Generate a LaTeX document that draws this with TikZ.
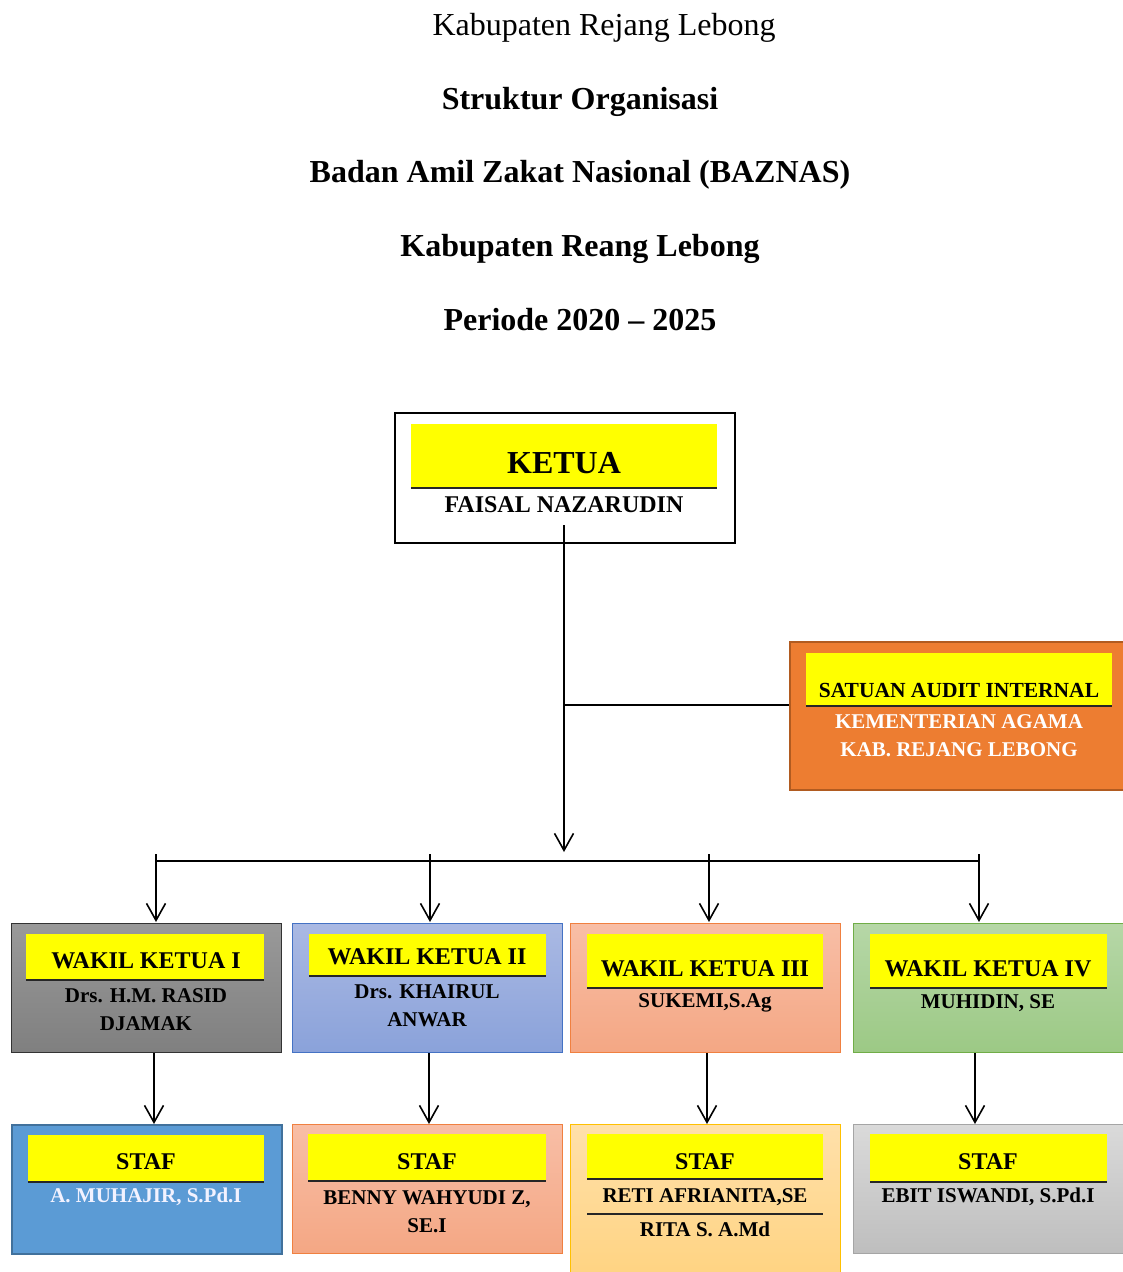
\documentclass[tikz,border=0pt]{standalone}
\usepackage{fontspec}
\setmainfont{Liberation Serif}
\usetikzlibrary{arrows.meta}
\definecolor{bandyellow}{HTML}{FFFF00}
\definecolor{auditor}{HTML}{ED7D31}
\definecolor{auditbd}{HTML}{B15B20}
\tikzset{
  title/.style={font=\fontsize{32}{36}\selectfont\bfseries, inner sep=0pt},
  band/.style={fill=bandyellow, draw=none, anchor=north west, inner sep=0pt},
  bandline/.style={draw=black!85, line width=2pt},
  hd/.style={font=\fontsize{24}{28}\selectfont\bfseries, inner sep=0pt},
  nm/.style={font=\fontsize{21}{28}\selectfont\bfseries, inner sep=0pt, align=center},
  box/.style={anchor=north west, inner sep=0pt, minimum width=270pt, minimum height=129pt, line width=1.2pt},
  conn/.style={line width=1.6pt, draw=black},
  arr/.style={conn, -{Straight Barb[length=17pt,width=19pt,line width=1.6pt]}},
}
\begin{document}
\begin{tikzpicture}[x=1pt,y=-1pt]
\useasboundingbox (0,0) rectangle (1123,1272);
\clip (0,0) rectangle (1123,1272);
% titles
\node[inner sep=0pt, font=\fontsize{32}{36}\selectfont] (t1) at (604,28) {Kabupaten Rejang Lebong};
\node[title] (t2) at (580,102) {Struktur Organisasi};
\node[title] (t3) at (580,175) {Badan Amil Zakat Nasional (BAZNAS)};
\node[title] (t4) at (580,249) {Kabupaten Reang Lebong};
\node[title] (t5) at (580,320) {Periode 2020 -- 2025};

% Ketua
\node[draw=black, line width=2.2pt, anchor=north west, minimum width=340pt, minimum height=130pt, inner sep=0pt] (ketua) at (394,412) {};
\node[band, minimum width=306pt, minimum height=64pt] (kband) at (411,424) {};
\draw[bandline] (kband.south west) -- (kband.south east);
\node[font=\fontsize{32}{36}\selectfont\bfseries, inner sep=0pt] (ktxt) at (564,463) {KETUA};
\node[font=\fontsize{24}{28}\selectfont\bfseries, inner sep=0pt] (kname) at (564,505) {FAISAL NAZARUDIN};

% Audit
\node[fill=auditor, draw=auditbd, line width=2pt, anchor=north west, minimum width=334pt, minimum height=148pt, inner sep=0pt] (audit) at (789,641) {};
\node[band, minimum width=306pt, minimum height=53pt] (aband) at (806,653) {};
\draw[bandline] (aband.south west) -- (aband.south east);
\node[font=\fontsize{21.5}{26}\selectfont\bfseries, inner sep=0pt] (atxt) at (959,690) {SATUAN AUDIT INTERNAL};
\node[font=\fontsize{21}{28}\selectfont\bfseries, text=white, inner sep=0pt, align=center] (aname) at (959,736) {KEMENTERIAN AGAMA\\KAB. REJANG LEBONG};

% connectors from ketua
\coordinate (k0) at (564,525);
\coordinate (kj) at (564,705);
\coordinate (kend) at (564,852);
\draw[conn] (kj) -- (audit.west |- kj);
\draw[arr] (k0) -- (kend);
\coordinate (busL) at (157,861);
\coordinate (busR) at (979,861);
\draw[conn] (busL) -- (busR);

% Wakil boxes
\node[box, top color=black!40, bottom color=black!50, draw=black!80] (w1) at (11,923) {};
\node[box, top color={rgb,255:red,170;green,185;blue,227}, bottom color={rgb,255:red,138;green,162;blue,218}, draw={rgb,255:red,68;green,114;blue,196}] (w2) at (292,923) {};
\node[box, top color={rgb,255:red,248;green,190;blue,166}, bottom color={rgb,255:red,244;green,167;blue,132}, draw={rgb,255:red,240;green,128;blue,64}] (w3) at (570,923) {};
\node[box, top color={rgb,255:red,182;green,215;blue,167}, bottom color={rgb,255:red,156;green,201;blue,133}, draw={rgb,255:red,112;green,173;blue,71}] (w4) at (853,923) {};

\node[band, minimum width=238pt, minimum height=46pt] (wb1) at (26,934) {};
\node[band, minimum width=237pt, minimum height=42pt] (wb2) at (309,934) {};
\node[band, minimum width=236pt, minimum height=54pt] (wb3) at (587,934) {};
\node[band, minimum width=237pt, minimum height=54pt] (wb4) at (870,934) {};
\foreach \b in {wb1,wb2,wb3,wb4}{\draw[bandline] (\b.south west) -- (\b.south east);}
\node[hd] (wt1) at (146,961) {WAKIL KETUA I};
\node[hd] (wt2) at (427,957) {WAKIL KETUA II};
\node[hd] (wt3) at (705,969) {WAKIL KETUA III};
\node[hd] (wt4) at (988,969) {WAKIL KETUA IV};
\node[nm] (wn1) at (146,1010) {Drs. H.M. RASID\\DJAMAK};
\node[nm] (wn2) at (427,1006) {Drs. KHAIRUL\\ANWAR};
\node[nm] (wn3) at (705,1003) {SUKEMI,S.Ag};
\node[nm] (wn4) at (988,1003) {MUHIDIN, SE};

% bus arrows to wakil
\draw[arr] (156,854) -- (156,922) coordinate (a1);
\draw[arr] (430,854) -- (430,922) coordinate (a2);
\draw[arr] (709,854) -- (709,922) coordinate (a3);
\draw[arr] (979,854) -- (979,922) coordinate (a4);

% Staf boxes
\node[box, fill={rgb,255:red,91;green,155;blue,213}, draw={rgb,255:red,65;green,113;blue,156}, line width=2.4pt] (s1) at (11,1124) {};
\node[box, top color={rgb,255:red,248;green,190;blue,166}, bottom color={rgb,255:red,244;green,167;blue,132}, draw={rgb,255:red,240;green,128;blue,64}] (s2) at (292,1124) {};
\node[box, minimum height=170pt, top color={rgb,255:red,255;green,224;blue,170}, bottom color={rgb,255:red,255;green,210;blue,125}, draw={rgb,255:red,255;green,192;blue,0}] (s3) at (570,1124) {};
\node[box, top color={rgb,255:red,218;green,218;blue,218}, bottom color={rgb,255:red,190;green,190;blue,190}, draw={rgb,255:red,165;green,165;blue,165}] (s4) at (853,1124) {};

\node[band, minimum width=236pt, minimum height=47pt] (sb1) at (28,1135) {};
\node[band, minimum width=238pt, minimum height=47pt] (sb2) at (308,1134) {};
\node[band, minimum width=236pt, minimum height=45pt] (sb3) at (587,1134) {};
\node[band, minimum width=237pt, minimum height=48pt] (sb4) at (870,1134) {};
\foreach \b in {sb1,sb2,sb3,sb4}{\draw[bandline] (\b.south west) -- (\b.south east);}
\node[hd] (st1) at (146,1162) {STAF};
\node[hd] (st2) at (427,1162) {STAF};
\node[hd] (st3) at (705,1162) {STAF};
\node[hd] (st4) at (988,1162) {STAF};
\node[nm, text=white!95!blue] (sn1) at (146,1197) {A. MUHAJIR, S.Pd.I};
\node[nm] (sn2) at (427,1212) {BENNY WAHYUDI Z,\\SE.I};
\node[nm] (sn3a) at (705,1197) {RETI AFRIANITA,SE};
\draw[draw=black!85, line width=1.5pt] (587,1214) -- (823,1214);
\node[nm] (sn3b) at (705,1229) {RITA S. A.Md};
\node[nm] (sn4) at (988,1197) {EBIT ISWANDI, S.Pd.I};

% wakil to staf arrows
\draw[arr] (w1.south -| 154,0) -- (s1.north -| 154,0);
\draw[arr] (w2.south -| 429,0) -- (s2.north -| 429,0);
\draw[arr] (w3.south -| 707,0) -- (s3.north -| 707,0);
\draw[arr] (w4.south -| 975,0) -- (s4.north -| 975,0);
\end{tikzpicture}
\end{document}
